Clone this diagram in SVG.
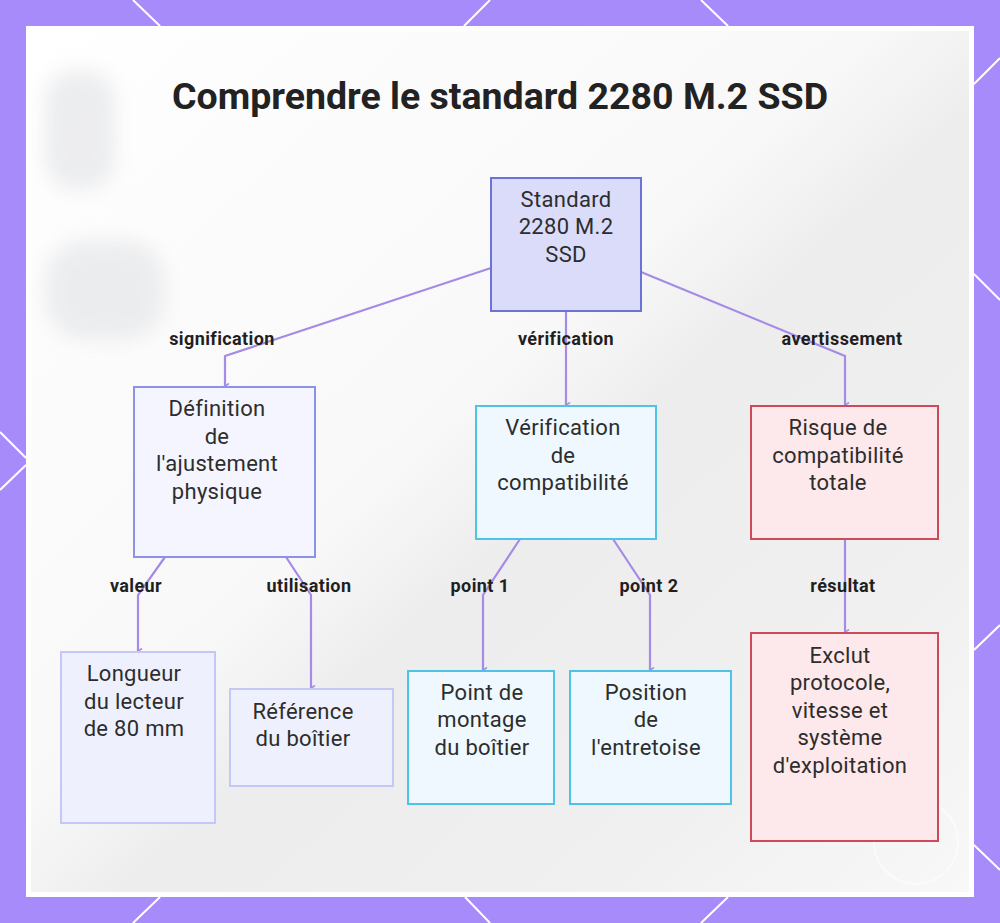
<svg xmlns="http://www.w3.org/2000/svg" width="1000" height="923" viewBox="0 0 1000 923">
<defs>
<linearGradient id="bg" x1="0" y1="0" x2="1" y2="1">
<stop offset="0" stop-color="#ffffff"/>
<stop offset="0.45" stop-color="#f8f8f8"/>
<stop offset="0.55" stop-color="#ededed"/>
<stop offset="0.8" stop-color="#f0f0f0"/>
<stop offset="1" stop-color="#f8f8f8"/>
</linearGradient>
<filter id="blur" x="-20%" y="-20%" width="140%" height="140%"><feGaussianBlur stdDeviation="10"/></filter>
<marker id="ah" markerWidth="6" markerHeight="6" refX="3" refY="5" orient="auto" markerUnits="userSpaceOnUse">
<path d="M0.5,1 L3,5 L5.5,1" fill="none" stroke="#a58ae6" stroke-width="1.5"/>
</marker>
<style>
.bd{stroke:#ffffff;stroke-width:2;fill:none}
.n rect{stroke-width:2}
.t{font-family:Roboto,"Liberation Sans",sans-serif;font-size:22px;letter-spacing:0.3px;fill:#2d2d2d;text-anchor:middle}
.lb{font-family:Roboto,"Liberation Sans",sans-serif;font-size:18px;letter-spacing:0.4px;font-weight:bold;fill:#1f1f1f;text-anchor:middle}
.c{fill:none;stroke:#a58ae6;stroke-width:2.2;marker-end:url(#ah)}
.blue rect{fill:#dadcfa;stroke:#6b74d6}
.lav rect{fill:#f4f5fe;stroke:#8c93e6}
.pale rect{fill:#eef1fd;stroke:#c3c9f4}
.cyan rect{fill:#eef8fe;stroke:#4fc3e6}
.red rect{fill:#fde8eb;stroke:#cc4a5a}
</style>
</defs>
<rect x="0" y="0" width="1000" height="923" fill="#a78bfa"/>
<g class="bd">
<line x1="133" y1="0" x2="160" y2="26"/>
<line x1="490" y1="0" x2="464" y2="26"/>
<line x1="701" y1="0" x2="728" y2="26"/>
<line x1="1000" y1="58" x2="974" y2="84"/>
<line x1="1000" y1="300" x2="974" y2="274"/>
<line x1="1000" y1="625" x2="974" y2="650"/>
<line x1="1000" y1="870" x2="974" y2="845"/>
<line x1="0" y1="432" x2="26" y2="458"/>
<line x1="0" y1="490" x2="26" y2="465"/>
<line x1="133" y1="923" x2="160" y2="897"/>
<line x1="465" y1="897" x2="490" y2="923"/>
<line x1="701" y1="923" x2="728" y2="897"/>
</g>
<rect x="26" y="26" width="948" height="871" fill="#ffffff"/>
<rect x="31" y="31" width="938" height="861" fill="url(#bg)"/>
<g filter="url(#blur)" fill="#e8e9eb" opacity="0.8">
<rect x="45" y="70" width="70" height="120" rx="30"/>
<rect x="45" y="240" width="120" height="100" rx="40"/>
</g>
<g opacity="0.5">
<circle cx="916" cy="842" r="42" fill="none" stroke="#ffffff" stroke-width="2"/>
</g>
<text x="500" y="109" font-family="Roboto,'Liberation Sans',sans-serif" font-size="37.5" font-weight="bold" fill="#222222" text-anchor="middle">Comprendre le standard 2280 M.2 SSD</text>
<g id="connectors">
<path class="c" d="M491,268 L225,356 L225,386"/>
<text class="lb" x="222" y="345">signification</text>
<path class="c" d="M566,311 L566,405"/>
<text class="lb" x="566" y="345">vérification</text>
<path class="c" d="M641,272 L845,356 L845,405"/>
<text class="lb" x="842" y="345">avertissement</text>
<path class="c" d="M165,557 L138,595 L138,651"/>
<text class="lb" x="136" y="592">valeur</text>
<path class="c" d="M286,557 L311,595 L311,688"/>
<text class="lb" x="309" y="592">utilisation</text>
<path class="c" d="M520,539 L483,595 L483,670"/>
<text class="lb" x="480" y="592">point 1</text>
<path class="c" d="M613,539 L650,595 L650,670"/>
<text class="lb" x="649" y="592">point 2</text>
<path class="c" d="M845,539 L845,632"/>
<text class="lb" x="843" y="592">résultat</text>
</g>
<g id="root" class="n blue"><rect x="491" y="178" width="150" height="133"/>
<text class="t" x="566" y="207">Standard</text><text class="t" x="566" y="234">2280 M.2</text><text class="t" x="566" y="262">SSD</text></g>
<g id="def" class="n lav"><rect x="134" y="387" width="181" height="170"/>
<text class="t" x="217" y="416">Définition</text><text class="t" x="217" y="444">de</text><text class="t" x="217" y="471">l'ajustement</text><text class="t" x="217" y="499">physique</text></g>
<g id="verif" class="n cyan"><rect x="476" y="406" width="180" height="133"/>
<text class="t" x="563" y="435">Vérification</text><text class="t" x="563" y="463">de</text><text class="t" x="563" y="490">compatibilité</text></g>
<g id="risque" class="n red"><rect x="751" y="406" width="187" height="133"/>
<text class="t" x="838" y="435">Risque de</text><text class="t" x="838" y="463">compatibilité</text><text class="t" x="838" y="490">totale</text></g>
<g id="longueur" class="n pale"><rect x="61" y="652" width="154" height="171"/>
<text class="t" x="134" y="681">Longueur</text><text class="t" x="134" y="709">du lecteur</text><text class="t" x="134" y="736">de 80 mm</text></g>
<g id="reference" class="n pale"><rect x="230" y="689" width="163" height="97"/>
<text class="t" x="303" y="719">Référence</text><text class="t" x="303" y="746">du boîtier</text></g>
<g id="montage" class="n cyan"><rect x="408" y="671" width="146" height="133"/>
<text class="t" x="482" y="700">Point de</text><text class="t" x="482" y="727">montage</text><text class="t" x="482" y="755">du boîtier</text></g>
<g id="position" class="n cyan"><rect x="570" y="671" width="161" height="133"/>
<text class="t" x="646" y="700">Position</text><text class="t" x="646" y="727">de</text><text class="t" x="646" y="755">l'entretoise</text></g>
<g id="exclut" class="n red"><rect x="751" y="633" width="187" height="208"/>
<text class="t" x="840" y="663">Exclut</text><text class="t" x="840" y="690">protocole,</text><text class="t" x="840" y="718">vitesse et</text><text class="t" x="840" y="745">système</text><text class="t" x="840" y="773">d'exploitation</text></g>
</svg>
